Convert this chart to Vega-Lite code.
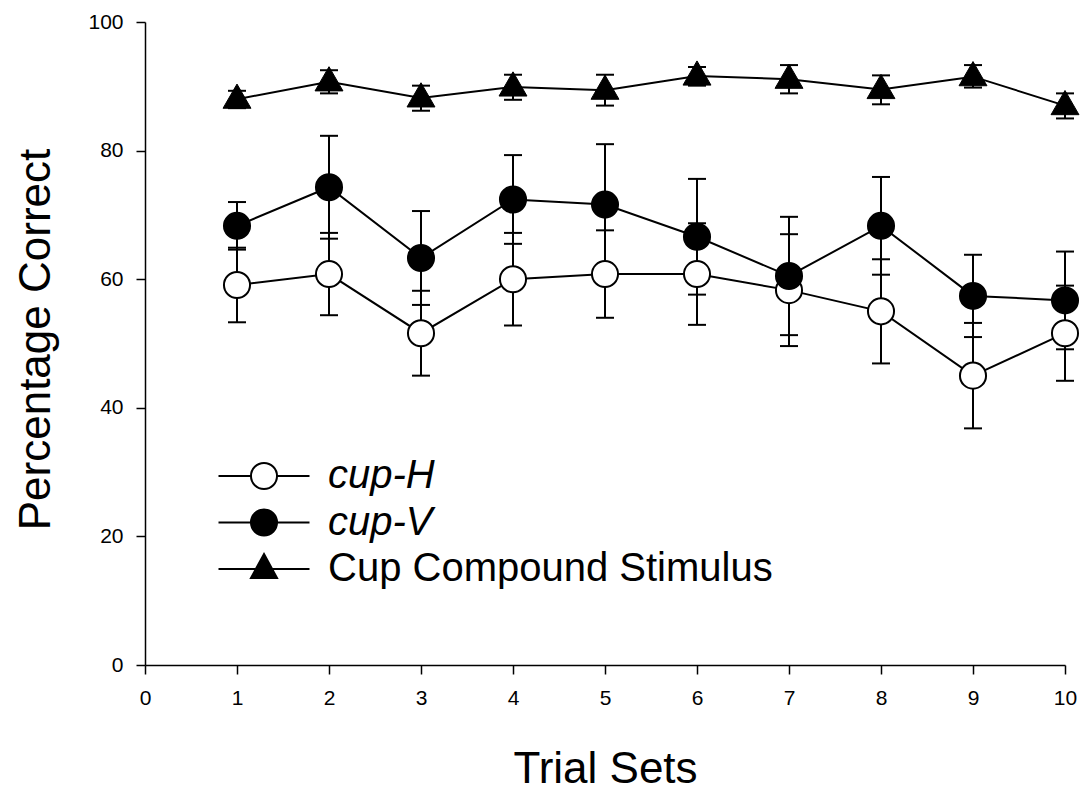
{
  "$schema": "https://vega.github.io/schema/vega-lite/v6.json",
  "width": 920,
  "height": 643,
  "autosize": "none",
  "padding": {"left": 145, "top": 22, "right": 18, "bottom": 126},
  "background": "white",
  "config": {
    "view": {"stroke": null},
    "font": "Liberation Sans",
    "axis": {
      "grid": false,
      "domainColor": "black",
      "domainWidth": 1.5,
      "tickColor": "black",
      "tickWidth": 1.5,
      "tickSize": 9,
      "labelColor": "black",
      "labelFont": "Liberation Sans",
      "labelFontSize": 21,
      "labelFlush": false,
      "labelOverlap": false,
      "titleColor": "black",
      "titleFont": "Liberation Sans",
      "titleFontSize": 44,
      "titleFontWeight": "normal"
    }
  },
  "data": {
    "values": [
      {"series": "cup-H", "trial": 1, "mean": 59.1, "lo": 53.3, "hi": 64.9},
      {"series": "cup-H", "trial": 2, "mean": 60.8, "lo": 54.4, "hi": 67.2},
      {"series": "cup-H", "trial": 3, "mean": 51.6, "lo": 45.0, "hi": 58.2},
      {"series": "cup-H", "trial": 4, "mean": 60.0, "lo": 52.8, "hi": 67.2},
      {"series": "cup-H", "trial": 5, "mean": 60.8, "lo": 54.0, "hi": 67.6},
      {"series": "cup-H", "trial": 6, "mean": 60.8, "lo": 52.9, "hi": 68.7},
      {"series": "cup-H", "trial": 7, "mean": 58.3, "lo": 49.6, "hi": 67.0},
      {"series": "cup-H", "trial": 8, "mean": 55.0, "lo": 46.9, "hi": 63.1},
      {"series": "cup-H", "trial": 9, "mean": 45.0, "lo": 36.8, "hi": 53.2},
      {"series": "cup-H", "trial": 10, "mean": 51.6, "lo": 44.2, "hi": 59.0},
      {"series": "cup-V", "trial": 1, "mean": 68.3, "lo": 64.6, "hi": 72.0},
      {"series": "cup-V", "trial": 2, "mean": 74.3, "lo": 66.3, "hi": 82.3},
      {"series": "cup-V", "trial": 3, "mean": 63.3, "lo": 56.0, "hi": 70.6},
      {"series": "cup-V", "trial": 4, "mean": 72.4, "lo": 65.5, "hi": 79.3},
      {"series": "cup-V", "trial": 5, "mean": 71.6, "lo": 62.2, "hi": 81.0},
      {"series": "cup-V", "trial": 6, "mean": 66.6, "lo": 57.6, "hi": 75.6},
      {"series": "cup-V", "trial": 7, "mean": 60.5, "lo": 51.3, "hi": 69.7},
      {"series": "cup-V", "trial": 8, "mean": 68.3, "lo": 60.7, "hi": 75.9},
      {"series": "cup-V", "trial": 9, "mean": 57.4, "lo": 51.0, "hi": 63.8},
      {"series": "cup-V", "trial": 10, "mean": 56.7, "lo": 49.1, "hi": 64.3},
      {"series": "Cup Compound Stimulus", "trial": 1, "mean": 88.0, "lo": 86.6, "hi": 89.3},
      {"series": "Cup Compound Stimulus", "trial": 2, "mean": 90.7, "lo": 88.9, "hi": 92.5},
      {"series": "Cup Compound Stimulus", "trial": 3, "mean": 88.2, "lo": 86.2, "hi": 90.1},
      {"series": "Cup Compound Stimulus", "trial": 4, "mean": 89.9, "lo": 87.9, "hi": 91.8},
      {"series": "Cup Compound Stimulus", "trial": 5, "mean": 89.4, "lo": 87.0, "hi": 91.8},
      {"series": "Cup Compound Stimulus", "trial": 6, "mean": 91.6, "lo": 90.1, "hi": 93.0},
      {"series": "Cup Compound Stimulus", "trial": 7, "mean": 91.1, "lo": 88.9, "hi": 93.3},
      {"series": "Cup Compound Stimulus", "trial": 8, "mean": 89.5, "lo": 87.2, "hi": 91.7},
      {"series": "Cup Compound Stimulus", "trial": 9, "mean": 91.5, "lo": 89.8, "hi": 93.3},
      {"series": "Cup Compound Stimulus", "trial": 10, "mean": 87.0, "lo": 85.0, "hi": 88.9}
    ]
  },
  "encoding": {
    "x": {
      "field": "trial",
      "type": "quantitative",
      "scale": {"domain": [0, 10], "nice": false, "zero": false},
      "axis": {
        "title": "Trial Sets",
        "values": [0, 1, 2, 3, 4, 5, 6, 7, 8, 9, 10],
        "labelPadding": 13,
        "titleBaseline": "alphabetic",
        "titleY": 117
      }
    }
  },
  "layer": [
    {
      "mark": {"type": "rule", "color": "black", "strokeWidth": 2},
      "encoding": {
        "y": {
          "field": "lo",
          "type": "quantitative",
          "scale": {"domain": [0, 100], "nice": false},
          "axis": {
            "title": "Percentage Correct",
            "values": [0, 20, 40, 60, 80, 100],
            "labelPadding": 13,
            "titleAngle": -90,
            "titleBaseline": "alphabetic",
            "titleX": -96,
            "titleY": 317
          }
        },
        "y2": {"field": "hi"}
      }
    },
    {
      "mark": {"type": "tick", "orient": "horizontal", "color": "black", "size": 18, "thickness": 2, "opacity": 1},
      "encoding": {"y": {"field": "lo", "type": "quantitative"}}
    },
    {
      "mark": {"type": "tick", "orient": "horizontal", "color": "black", "size": 18, "thickness": 2, "opacity": 1},
      "encoding": {"y": {"field": "hi", "type": "quantitative"}}
    },
    {
      "mark": {"type": "line", "color": "black", "strokeWidth": 2},
      "encoding": {
        "y": {"field": "mean", "type": "quantitative"},
        "detail": {"field": "series", "type": "nominal"}
      }
    },
    {
      "transform": [{"filter": "datum.series !== 'Cup Compound Stimulus'"}],
      "mark": {"type": "point", "shape": "circle", "filled": true, "size": 680, "stroke": "black", "strokeWidth": 2, "opacity": 1},
      "encoding": {
        "y": {"field": "mean", "type": "quantitative"},
        "fill": {
          "field": "series",
          "type": "nominal",
          "scale": {"domain": ["cup-H", "cup-V", "Cup Compound Stimulus"], "range": ["white", "black", "black"]},
          "legend": {
            "title": null,
            "orient": "none",
            "legendX": 99,
            "legendY": 434,
            "padding": 0,
            "symbolSize": 784,
            "symbolStrokeWidth": 2,
            "symbolStrokeColor": "black",
            "symbolOpacity": 1,
            "labelFont": "Liberation Sans",
            "labelFontSize": 40,
            "labelColor": "black",
            "labelOffset": 44,
            "labelLimit": 0,
            "rowPadding": 6.5,
            "encode": {
              "symbols": {
                "update": {
                  "shape": {"signal": "datum.value === 'Cup Compound Stimulus' ? 'M-3.25,0L3.25,0M0,-1.07L0.93,0.64L-0.93,0.64Z' : 'M-3.25,0L-0.93,0M0.93,0L3.25,0M-0.93,0A0.93,0.93,0,1,1,0.93,0A0.93,0.93,0,1,1,-0.93,0Z'"},
                  "stroke": {"value": "black"},
                  "strokeWidth": {"value": 2},
                  "opacity": {"value": 1}
                }
              },
              "labels": {
                "update": {
                  "fontStyle": {"signal": "datum.value === 'Cup Compound Stimulus' ? 'normal' : 'italic'"}
                }
              }
            }
          }
        }
      }
    },
    {
      "transform": [{"filter": "datum.series === 'Cup Compound Stimulus'"}],
      "mark": {"type": "point", "shape": "triangle-up", "filled": true, "size": 780, "stroke": "black", "strokeWidth": 1, "opacity": 1, "yOffset": -3},
      "encoding": {
        "y": {"field": "mean", "type": "quantitative"},
        "fill": {"field": "series", "type": "nominal"}
      }
    }
  ]
}
